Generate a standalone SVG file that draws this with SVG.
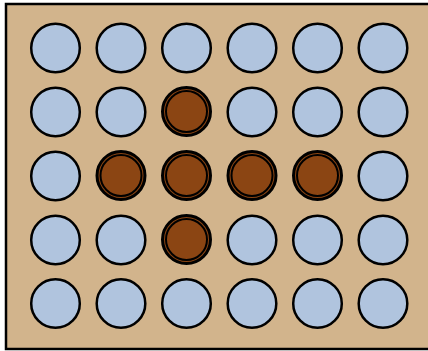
<svg xmlns="http://www.w3.org/2000/svg" width="428" height="351" viewBox="0 0 428 351">
<style>
.e{fill:#b0c4de;stroke:#000;stroke-width:2.5}
.p{fill:#8b4513;stroke:#000;stroke-width:3}
.pi{fill:none;stroke:#000;stroke-width:2}
</style>
<defs>
<g id="peg"><circle class="p" r="24"/><circle class="pi" r="20.5"/></g>
</defs>
<rect x="6" y="4" width="430" height="345" fill="#d2b48c" stroke="#000" stroke-width="2.5"/>
<g id="board">
<g id="r1"><circle class="e" cx="55.5" cy="48" r="24.3"/><circle class="e" cx="121" cy="48" r="24.3"/><circle class="e" cx="186.5" cy="48" r="24.3"/><circle class="e" cx="252" cy="48" r="24.3"/><circle class="e" cx="317.5" cy="48" r="24.3"/><circle class="e" cx="383" cy="48" r="24.3"/></g>
<g id="r2"><circle class="e" cx="55.5" cy="112" r="24.3"/><circle class="e" cx="121" cy="112" r="24.3"/><use href="#peg" x="186.5" y="111.5"/><circle class="e" cx="252" cy="112" r="24.3"/><circle class="e" cx="317.5" cy="112" r="24.3"/><circle class="e" cx="383" cy="112" r="24.3"/></g>
<g id="r3"><circle class="e" cx="55.5" cy="176" r="24.3"/><use href="#peg" x="121" y="175.5"/><use href="#peg" x="186.5" y="175.5"/><use href="#peg" x="252" y="175.5"/><use href="#peg" x="317.5" y="175.5"/><circle class="e" cx="383" cy="176" r="24.3"/></g>
<g id="r4"><circle class="e" cx="55.5" cy="240" r="24.3"/><circle class="e" cx="121" cy="240" r="24.3"/><use href="#peg" x="186.5" y="239.5"/><circle class="e" cx="252" cy="240" r="24.3"/><circle class="e" cx="317.5" cy="240" r="24.3"/><circle class="e" cx="383" cy="240" r="24.3"/></g>
<g id="r5"><circle class="e" cx="55.5" cy="303.5" r="24.3"/><circle class="e" cx="121" cy="303.5" r="24.3"/><circle class="e" cx="186.5" cy="303.5" r="24.3"/><circle class="e" cx="252" cy="303.5" r="24.3"/><circle class="e" cx="317.5" cy="303.5" r="24.3"/><circle class="e" cx="383" cy="303.5" r="24.3"/></g>
</g>
</svg>
